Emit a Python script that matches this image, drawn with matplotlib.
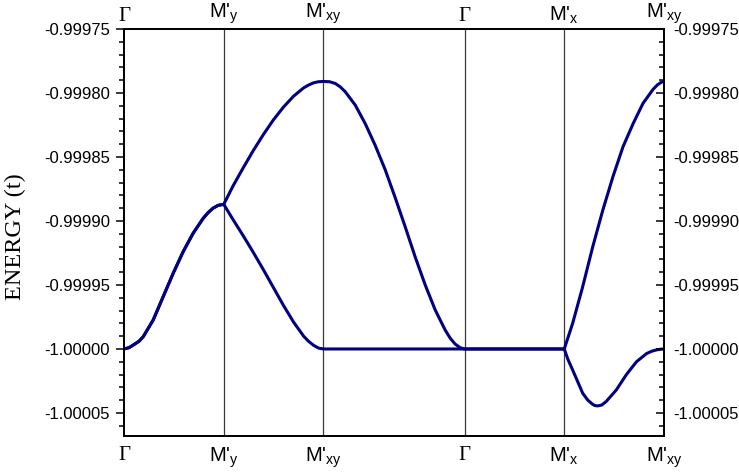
import numpy as np
import matplotlib
matplotlib.use("Agg")
import matplotlib.pyplot as plt
from matplotlib.ticker import MultipleLocator, FormatStrFormatter

plt.rcParams['font.family'] = ['Liberation Sans', 'DejaVu Sans']
plt.rcParams['mathtext.fontset'] = 'custom'
plt.rcParams['mathtext.rm'] = 'Liberation Sans'

# high-symmetry points along the path (path length in units of the BZ edge)
k_ticks = [0.0, 1.0, 2.0, 3.414, 4.414, 5.414]
k_labels = ["\u0393", "M'$_\\mathregular{y}$", "M'$_\\mathregular{xy}$",
            "\u0393", "M'$_\\mathregular{x}$", "M'$_\\mathregular{xy}$"]

# energies are read as offsets from -1 t, in units of 1e-5 t
upper_k = [0.0, 0.05, 0.093, 0.15, 0.193, 0.293, 0.393, 0.493, 0.593, 0.693, 0.793, 0.843,
           0.893, 0.943, 1.0,
           1.094, 1.195, 1.296, 1.397, 1.498, 1.599, 1.700, 1.801, 1.85, 1.902, 1.95, 2.0,
           2.06, 2.117, 2.168, 2.218, 2.318, 2.419, 2.519, 2.619, 2.720, 2.819, 2.919, 3.020,
           3.120, 3.220, 3.27, 3.319, 3.37, 3.414,
           4.414,
           4.498, 4.599, 4.700, 4.801, 4.902, 5.003, 5.104, 5.204, 5.306, 5.35, 5.391, 5.414]
upper_dE = [0.0, 0.1, 0.31, 0.6, 0.96, 2.27, 4.09, 5.91, 7.6, 9.04, 10.2, 10.65,
            11.0, 11.22, 11.3,
            12.75, 14.15, 15.5, 16.75, 17.9, 18.9, 19.75, 20.4, 20.62, 20.8, 20.88, 20.9,
            20.88, 20.75, 20.48, 20.1, 19.06, 17.6, 15.9, 14.0, 11.8, 9.55, 7.2, 5.0,
            3.05, 1.48, 0.85, 0.39, 0.1, 0.0,
            0.0,
            2.0, 4.87, 8.0, 10.86, 13.46, 15.8, 17.6, 19.2, 20.3, 20.65, 20.86, 20.9]

lower_k = [0.0, 0.05, 0.093, 0.15, 0.193, 0.293, 0.393, 0.493, 0.593, 0.693, 0.793, 0.843,
           0.893, 0.943, 1.0,
           1.094, 1.195, 1.296, 1.397, 1.498, 1.599, 1.700, 1.801, 1.85, 1.902, 1.95, 2.0,
           3.414, 4.414,
           4.45, 4.498, 4.599, 4.65, 4.700, 4.72, 4.750, 4.79, 4.835, 4.936, 5.037, 5.138,
           5.239, 5.29, 5.340, 5.38, 5.414]
lower_dE = [0.0, 0.1, 0.31, 0.6, 0.96, 2.27, 4.09, 5.91, 7.6, 9.04, 10.2, 10.65,
            11.0, 11.22, 11.3,
            10.1, 8.85, 7.55, 6.2, 4.8, 3.4, 2.1, 1.0, 0.6, 0.28, 0.07, 0.0,
            0.0, 0.0,
            -0.8, -1.64, -3.46, -4.0, -4.33, -4.42, -4.45, -4.38, -4.1, -3.2, -2.0, -1.0,
            -0.36, -0.18, -0.07, -0.02, 0.0]

upper_E = -1.0 + np.array(upper_dE) * 1e-5
lower_E = -1.0 + np.array(lower_dE) * 1e-5

fig = plt.figure(figsize=(7.39, 4.74), dpi=100)
ax = fig.add_axes([124 / 739, 38 / 474, 540 / 739, 407 / 474])

for kk in k_ticks[1:-1]:
    ax.axvline(kk, color='#3a3a3a', lw=0.9, zorder=1)

ax.plot(upper_k, upper_E, color='#000080', lw=2.2, zorder=3,
        solid_joinstyle='round', solid_capstyle='round')
ax.plot(lower_k, lower_E, color='#000080', lw=2.2, zorder=3,
        solid_joinstyle='round', solid_capstyle='round')

ax.set_xlim(k_ticks[0], k_ticks[-1])
ax.set_ylim(-1.000068, -0.99975)

ax.set_xticks(k_ticks)
ax.set_xticklabels(k_labels)
ax.tick_params(axis='x', length=0, labelsize=14.5, pad=7)

# top labels on a twin axis so they can sit closer to the frame
axt = ax.twiny()
axt.set_xlim(ax.get_xlim())
axt.set_xticks(k_ticks)
axt.set_xticklabels(k_labels)
axt.tick_params(axis='x', length=0, labelsize=14.5, pad=2)

for a, lab_list in ((ax, ax.get_xticklabels()), (axt, axt.get_xticklabels())):
    for lab in lab_list:
        if lab.get_text() == "\u0393":
            lab.set_fontfamily('Liberation Serif')
            lab.set_fontsize(15)

ax.yaxis.set_major_locator(MultipleLocator(0.00005))
ax.yaxis.set_minor_locator(MultipleLocator(0.00001))
ax.yaxis.set_major_formatter(FormatStrFormatter('%.5f'))
ax.tick_params(axis='y', which='major', direction='out', length=6, width=1.1,
               labelsize=12, pad=4)
ax.tick_params(axis='y', which='minor', direction='out', length=3.5, width=1.1)

# right axis: same scale, ticks pointing inwards
ax2 = ax.twinx()
ax2.set_ylim(ax.get_ylim())
ax2.yaxis.set_major_locator(MultipleLocator(0.00005))
ax2.yaxis.set_minor_locator(MultipleLocator(0.00001))
ax2.yaxis.set_major_formatter(FormatStrFormatter('%.5f'))
ax2.tick_params(axis='y', which='major', direction='in', length=6, width=1.1,
                labelsize=12, pad=7)
ax2.tick_params(axis='y', which='minor', direction='in', length=3.5, width=1.1)

for a in (ax, ax2, axt):
    for s in a.spines.values():
        s.set_linewidth(1.1)

fig.text(0.021, 0.5, "ENERGY (t)", rotation=90, va='center', ha='center',
         fontsize=17.5, family='Liberation Serif')

fig.savefig('out.png', dpi=100)
